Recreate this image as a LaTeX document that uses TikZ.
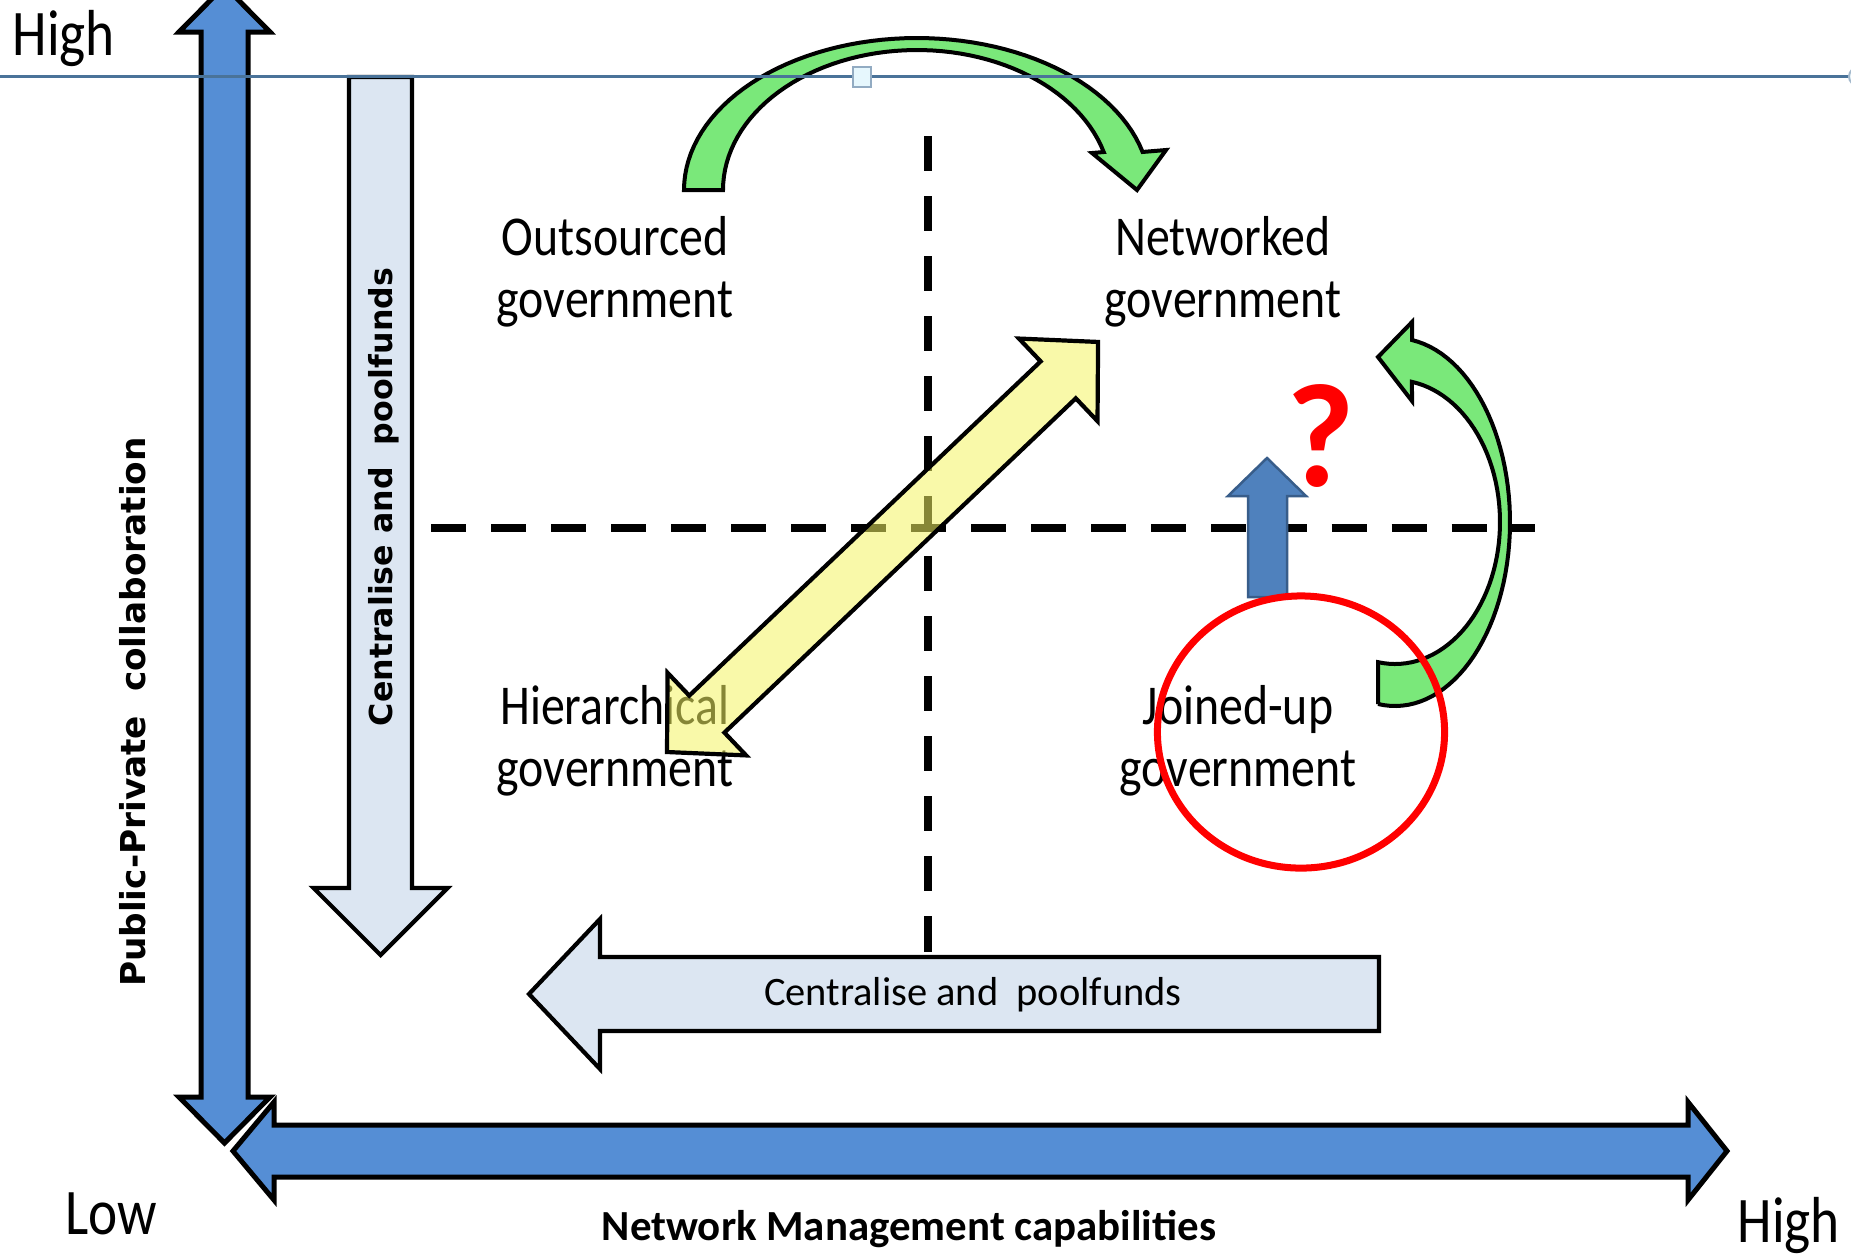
\documentclass[tikz,border=0pt]{standalone}
\usepackage{fontspec}
\setmainfont{Carlito}
\newfontfamily\narrowfont[FakeStretch=0.85]{Carlito}
\newfontfamily\widefont{DejaVu Sans}
\usetikzlibrary{math}
\definecolor{axisblue}{RGB}{85,142,213}
\definecolor{paleblue}{RGB}{220,230,242}
\definecolor{arcgreen}{RGB}{122,232,122}
\definecolor{paleyellow}{RGB}{245,245,100}
\definecolor{upblue}{RGB}{79,129,189}
\definecolor{upblueline}{RGB}{56,93,138}
\definecolor{guideblue}{RGB}{74,115,153}
\tikzset{blockarrow/.style={draw=black, line width=0.05cm, line join=miter},
	palearrow/.style={blockarrow, line width=0.042cm, fill=paleblue},
	quadlabel/.style={font=\narrowfont\fontsize{16}{17.6}\selectfont, align=center, inner sep=0pt},
	endlabel/.style={font=\narrowfont\fontsize{18.5}{20}\selectfont, inner sep=0pt},
	quaddash/.style={line width=0.075cm, dash pattern=on 0.35cm off 0.25cm}}

\begin{document}
\begin{tikzpicture}[x=0.01cm,y=-0.01cm]
	\tikzmath{\vax=224.5; \vaw=23.5; \vah=45.5; \vatop=-14; \vabot=1143; \vaht=32; \vahb=1097;
	\hay=1151; \haw=26; \hah=49; \hal=233; \har=1727; \hahl=274; \hahr=1688;
	\pvx=380.5; \pvw=31.5; \pvh=67; \pvtop=77; \pvhb=888; \pvtip=955;
	\phy=994; \phw=37; \phh=75; \phr=1379; \phhb=600; \phtip=529;
	\dlen=595; \dsw=25.5; \dhl=55; \dhw=57;
	}
	\useasboundingbox (0,0) rectangle (1851,1259);
	\clip (0,0) rectangle (1851,1259);
	\fill[white] (0,0) rectangle (1851,1259);
	% quadrants
	\draw[quaddash] (928,136) -- (928,954);
	\draw[quaddash] (431,528) -- (1535,528);
	\node[quadlabel] (outsourced) at (615,272) {Outsourced\\government};
	\node[quadlabel] (networked) at (1223,272) {Networked\\government};
	\node[quadlabel] (hierarchical) at (615,741) {Hierarchical\\government};
	\node[quadlabel] (joinedup) at (1238,741) {Joined-up\\government};
	% axes
	\filldraw[blockarrow, fill=axisblue] (\vax,\vatop) -- (\vax+\vah,\vaht) -- (\vax+\vaw,\vaht) -- (\vax+\vaw,\vahb) -- (\vax+\vah,\vahb) -- (\vax,\vabot) -- (\vax-\vah,\vahb) -- (\vax-\vaw,\vahb) -- (\vax-\vaw,\vaht) -- (\vax-\vah,\vaht) -- cycle;
	\filldraw[blockarrow, fill=axisblue] (\hal,\hay) -- (\hahl,\hay-\hah) -- (\hahl,\hay-\haw) -- (\hahr,\hay-\haw) -- (\hahr,\hay-\hah) -- (\har,\hay) -- (\hahr,\hay+\hah) -- (\hahr,\hay+\haw) -- (\hahl,\hay+\haw) -- (\hahl,\hay+\hah) -- cycle;
	\node[endlabel, anchor=base west] (hightop) at (12,55) {High};
	\node[endlabel, anchor=base west] (low) at (65,1234) {Low};
	\node[endlabel, anchor=base west] (highright) at (1737,1242) {High};
	\node[font=\bfseries\fontsize{12.2}{13}\selectfont, anchor=base] (nmc) at (909,1240) {Network Management capabilities};
	\node[rotate=90, font=\widefont\bfseries\fontsize{9.75}{11}\selectfont] (ppc) at (133,712) {Public-Private~ collaboration};
	% pooling arrows
	\filldraw[palearrow] (\pvx-\pvw,\pvtop) -- (\pvx+\pvw,\pvtop) -- (\pvx+\pvw,\pvhb) -- (\pvx+\pvh,\pvhb) -- (\pvx,\pvtip) -- (\pvx-\pvh,\pvhb) -- (\pvx-\pvw,\pvhb) -- cycle;
	\node[rotate=90, font=\widefont\bfseries\fontsize{9}{10}\selectfont] (pooldown) at (384,497) {Centralise and~ poolfunds};
	\filldraw[palearrow] (\phr,\phy-\phw) -- (\phr,\phy+\phw) -- (\phhb,\phy+\phw) -- (\phhb,\phy+\phh) -- (\phtip,\phy) -- (\phhb,\phy-\phh) -- (\phhb,\phy-\phw) -- cycle;
	\node[font=\fontsize{11.5}{12}\selectfont] (poolleft) at (973,995) {Centralise and~ poolfunds};
	% curved moves
	\filldraw[blockarrow, line width=0.04cm, fill=arcgreen] (684,190) -- plot[domain=180:345.5, samples=60] ({917+233*cos(\x)},{190+152*sin(\x)}) -- (1166,150) -- (1137,190) -- (1092,153) -- plot[domain=344.25:180, samples=60] ({917+194*cos(\x)},{190+140*sin(\x)}) -- cycle;
	\filldraw[blockarrow, line width=0.04cm, fill=arcgreen] (1378,704) -- plot[domain=98.5:-81.5, samples=60] ({1395+115*cos(\x)},{522+184*sin(\x)}) -- (1412,322) -- (1378,357) -- (1412,401) -- plot[domain=-80.7:99.3, samples=60] ({1395+105*cos(\x)},{522+142*sin(\x)}) -- cycle;
	\begin{scope}[shift={(667,752)}, rotate=43.57]
		\filldraw[blockarrow, line width=0.042cm, fill=paleyellow, fill opacity=0.55] (0,0) -- (\dhl,\dhw) -- (\dhl,\dsw) -- (\dlen-\dhl,\dsw) -- (\dlen-\dhl,\dhw) -- (\dlen,0) -- (\dlen-\dhl,-\dhw) -- (\dlen-\dhl,-\dsw) -- (\dhl,-\dsw) -- (\dhl,-\dhw) -- cycle;
	\end{scope}
	\filldraw[fill=upblue, draw=upblueline, line width=0.025cm] (1267,458) -- (1306,496) -- (1287,496) -- (1287,597) -- (1248,597) -- (1248,496) -- (1228,496) -- cycle;
	\node[text=red, font=\bfseries\fontsize{42}{42}\selectfont] (query) at (1321,436) {?};
	\draw[red, line width=0.07cm] (1301,732) ellipse [x radius=1.435cm, y radius=1.36cm];
	% guide
	\draw[guideblue, line width=0.025cm] (0,76.5) -- (1851,76.5);
	\filldraw[fill=cyan!10, draw=guideblue!60, line width=0.02cm] (853,67) rectangle (871,87);
	\filldraw[fill=cyan!5, draw=guideblue!50, line width=0.02cm] (1858,76.5) circle (0.09cm);
\end{tikzpicture}
\end{document}
